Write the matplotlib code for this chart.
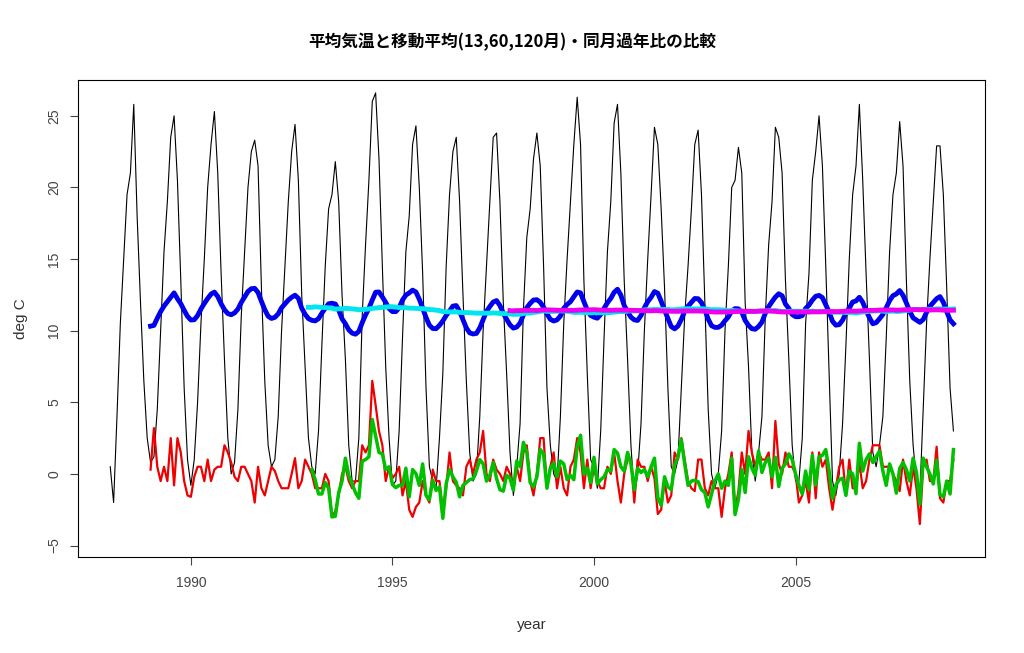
import matplotlib
matplotlib.use('Agg')
import matplotlib.pyplot as plt
import numpy as np

plt.rcParams['font.family'] = ['Liberation Sans', 'Noto Sans CJK JP', 'DejaVu Sans']

# monthly mean temperature, Jan..Dec, 1988-2008
temps = {
    1988: [0.5, -2.0, 4.0, 10.5, 15.0, 19.5, 21.0, 25.8, 18.0, 12.0, 6.5, 2.5],
    1989: [0.8, 1.2, 4.5, 10.0, 15.5, 19.0, 23.5, 25.0, 20.5, 13.5, 6.0, 1.0],
    1990: [-0.8, 1.0, 5.0, 10.5, 15.0, 20.0, 23.0, 25.3, 21.0, 14.0, 8.0, 2.5],
    1991: [0.0, 0.8, 4.5, 11.0, 15.5, 20.0, 22.5, 23.3, 21.5, 13.0, 6.5, 2.0],
    1992: [0.5, 1.0, 4.0, 10.0, 14.5, 19.0, 22.5, 24.4, 20.5, 12.5, 7.5, 2.5],
    1993: [0.5, 0.0, 3.0, 9.0, 14.5, 18.5, 19.5, 21.8, 19.0, 12.5, 8.0, 2.0],
    1994: [-0.5, -0.5, 2.5, 11.0, 16.0, 20.5, 26.0, 26.6, 22.0, 14.5, 7.5, 2.5],
    1995: [-0.8, -0.5, 3.0, 9.5, 15.5, 18.0, 23.0, 24.3, 20.0, 14.0, 6.0, 0.5],
    1996: [-0.5, -1.0, 2.5, 7.0, 14.5, 19.5, 22.5, 23.5, 19.0, 12.5, 6.5, 1.5],
    1997: [-0.5, 0.0, 4.0, 10.0, 14.5, 19.0, 23.5, 23.8, 19.0, 12.0, 7.0, 1.5],
    1998: [-1.5, 0.5, 3.5, 11.5, 16.5, 18.5, 22.0, 23.8, 21.5, 14.5, 6.0, 2.0],
    1999: [0.0, -0.5, 4.0, 10.5, 15.0, 19.0, 23.0, 26.3, 23.0, 13.5, 7.0, 1.0],
    2000: [0.5, -1.0, 3.0, 9.5, 15.5, 19.0, 24.5, 25.8, 21.0, 13.5, 8.0, 2.0],
    2001: [-1.5, 0.0, 3.5, 10.0, 15.0, 19.5, 24.2, 23.0, 18.5, 13.0, 6.0, 0.5],
    2002: [0.0, 1.0, 6.0, 11.0, 14.5, 18.5, 23.0, 24.0, 19.5, 12.0, 4.5, 0.0],
    2003: [-1.0, 0.0, 3.0, 10.0, 14.5, 20.0, 20.5, 22.8, 21.0, 12.0, 7.5, 1.5],
    2004: [-0.5, 1.5, 4.0, 11.0, 16.0, 19.0, 24.2, 23.5, 21.0, 13.5, 8.0, 2.0],
    2005: [-0.5, -0.5, 2.5, 10.5, 14.0, 20.5, 22.5, 25.0, 21.5, 14.5, 7.0, -0.5],
    2006: [-1.5, 0.0, 3.5, 9.0, 15.0, 19.5, 21.5, 25.8, 20.5, 14.0, 8.0, 1.5],
    2007: [0.5, 2.0, 4.0, 9.5, 15.5, 19.5, 21.0, 24.6, 21.5, 13.5, 6.5, 2.0],
    2008: [-0.5, -1.5, 4.5, 10.5, 15.0, 19.0, 22.9, 22.9, 19.5, 13.0, 6.0, 3.0],
}

years = sorted(temps)
t = np.concatenate([temps[y] for y in years])
x = np.array([y + m / 12 for y in years for m in range(12)])

def trailing_mean(v, n):
    out = np.full(len(v), np.nan)
    for i in range(n - 1, len(v)):
        out[i] = v[i - n + 1:i + 1].mean()
    return out

ma13 = trailing_mean(t, 13)
ma60 = trailing_mean(t, 60)
ma120 = trailing_mean(t, 120)

# difference from same month of the previous year
diff1 = np.full(len(t), np.nan)
diff1[12:] = t[12:] - t[:-12]
# difference from same-month mean of the previous 5 years
diff5 = np.full(len(t), np.nan)
for i in range(60, len(t)):
    diff5[i] = t[i] - np.mean(t[i - 60:i:12])

fig = plt.figure(figsize=(10.24, 6.53), dpi=100)
ax = fig.add_axes([78 / 1024, 1 - 557 / 653, 907 / 1024, 477 / 653])
ax.plot(x, t, color='black', lw=0.8)
ax.plot(x, ma13, color='#0000ee', lw=3.5)
ax.plot(x, ma60, color='#00e5ee', lw=3.5)
ax.plot(x, ma120, color='#ee00ee', lw=3.5)
ax.plot(x, diff1, color='#ee0000', lw=1.6)
ax.plot(x, diff5, color='#00c000', lw=2.5)

ax.set_xlim(1987.2, 2009.7)
ax.set_ylim(-5.8, 27.5)
ax.set_xticks([1990, 1995, 2000, 2005])
ax.set_yticks([-5, 0, 5, 10, 15, 20, 25])
ax.tick_params(axis='y', labelrotation=90, direction='out', labelsize=10, colors='#444444', length=6, pad=6)
ax.tick_params(axis='x', direction='out', labelsize=10, colors='#444444', length=6, pad=8)
for lab in ax.get_yticklabels():
    lab.set_va('center')
ax.set_xlabel('year', color='#333333', fontsize=11, labelpad=20)
ax.set_ylabel('deg C', color='#333333', fontsize=11, labelpad=14)
fig.text(0.5, 1 - 42 / 653, '平均気温と移動平均(13,60,120月)・同月過年比の比較',
         ha='center', va='center', fontsize=12, fontweight='bold',
         family=['Noto Sans CJK JP', 'DejaVu Sans'])
fig.savefig('out.png', dpi=100)
